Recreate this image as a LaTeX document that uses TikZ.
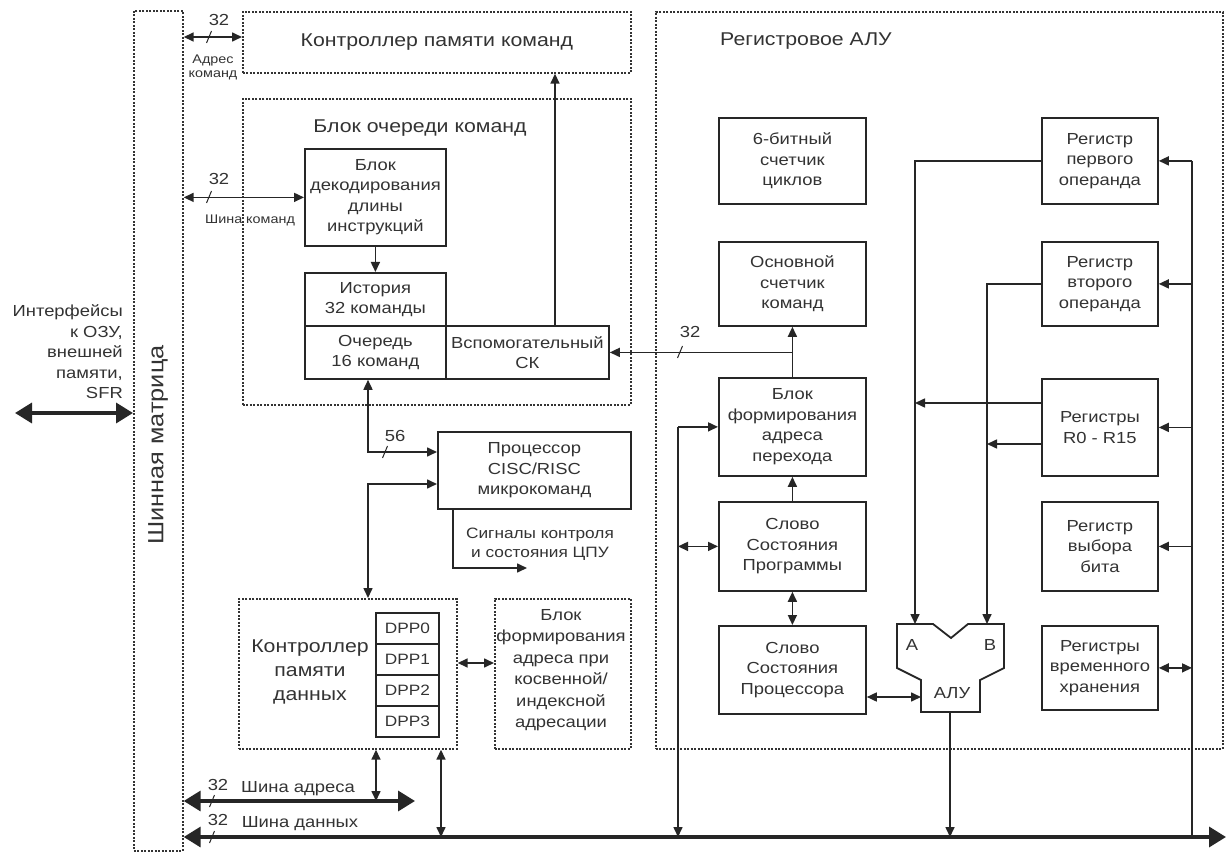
\documentclass[tikz,border=0pt]{standalone}
\usepackage{fontspec}
\setmainfont{Liberation Sans}[FakeStretch=1.15]
\usetikzlibrary{arrows.meta,calc}
\tikzset{
 blk/.style={draw=black!85, line width=1.8pt, inner sep=0pt, align=center, font=\fontsize{16}{20.5}\selectfont, text=black!80, anchor=north west},
 dbox/.style={draw=black!80, line width=1.7pt, dash pattern=on 2pt off 1.5pt, inner sep=0pt, anchor=north west},
 ln/.style={draw=black!85, line width=1.6pt},
 arr/.style={ln, -{Triangle[length=10pt,width=9pt]}},
 darr/.style={ln, {Triangle[length=10pt,width=9pt]}-{Triangle[length=10pt,width=9pt]}},
 bus/.style={draw=black!85, line width=3.5pt, {Triangle[length=17pt,width=20pt]}-{Triangle[length=17pt,width=20pt]}},
 txt/.style={font=\fontsize{16}{20.5}\selectfont, text=black!80, align=center, inner sep=0pt},
 ttl/.style={font=\fontsize{18.5}{24}\selectfont, text=black!80, align=center, inner sep=0pt},
 sml/.style={font=\fontsize{12.5}{14}\selectfont, text=black!80, align=center, inner sep=0pt},
 num/.style={font=\fontsize{16}{18}\selectfont, text=black!80, inner sep=0pt},
 slsh/.style={draw=black!85, line width=1pt},
}
\newcommand\slashat[1]{\draw[slsh] ($(#1)+(-2.5,6)$) -- ($(#1)+(2.5,-6)$);}
\begin{document}
\begin{tikzpicture}[x=1pt,y=-1pt]
\fill[white] (0,0) rectangle (1227,853);
\useasboundingbox (0,0) rectangle (1227,853);

% bus matrix
\node[dbox, minimum width=49pt, minimum height=840pt] (mat) at (133,10) {};
\node[ttl, rotate=90, font=\fontsize{22}{26}\selectfont] (matl) at (158,445) {Шинная матрица};

% interfaces
\node[txt, align=right, anchor=east] (ift) at (123,352) {Интерфейсы\\к ОЗУ,\\внешней\\памяти,\\SFR};
\coordinate (ifL) at (15,413);
\draw[bus] (ifL) -- (mat.west |- ifL);

% instruction memory controller
\node[dbox, ttl, minimum width=388pt, minimum height=61pt] (cmc) at (242,11) {Контроллер памяти команд};
\coordinate (ya) at (0,37);
\draw[darr] (mat.east |- ya) -- (cmc.west |- ya);
\node[num] (n1) at (219,20) {32};
\coordinate (s1) at (209,37); \slashat{s1}
\node[sml] (l1) at (213,67) {Адрес\\команд};

% instruction queue block
\node[dbox, minimum width=388pt, minimum height=306pt] (qblk) at (242,98) {};
\node[ttl] (qttl) at (420,128) {Блок очереди команд};
\node[blk, minimum width=141pt, minimum height=97pt] (dec) at (304,148) {Блок\\декодирования\\длины\\инструкций};
\node[blk, minimum width=141pt, minimum height=53pt] (hist) at (304,272) {История\\32 команды};
\node[blk, minimum width=141pt, minimum height=53pt] (que) at (304,325) {Очередь\\16 команд};
\node[blk, minimum width=163pt, minimum height=53pt] (aux) at (445,325) {Вспомогательный\\СК};
\draw[darr] (mat.east |- dec.west) -- (dec.west);
\node[num] (n2) at (219,179) {32};
\coordinate (s2) at (209,197); \slashat{s2}
\node[sml] (l2) at (250,220) {Шина команд};
\draw[arr] (dec.south) -- (hist.north);
\coordinate (xa) at (555,0);
\draw[arr] (xa |- aux.north) -- (xa |- cmc.south);

% processor
\node[blk, minimum width=193pt, minimum height=77pt] (proc) at (437,431) {Процессор\\CISC/RISC\\микрокоманд};
\coordinate (xq) at (368,0);
\coordinate (yp1) at (0,452);
\coordinate (yp2) at (0,484);
\draw[darr] (xq |- que.south) |- (proc.west |- yp1);
\node[num] (n4) at (395,436) {56};
\coordinate (s4) at (385,452); \slashat{s4}
\coordinate (xs) at (453,0);
\coordinate (sigE) at (527,568);
\draw[arr] (xs |- proc.south) |- (sigE);
\node[txt, font=\fontsize{15}{19}\selectfont] (sig) at (540,544) {Сигналы контроля\\и состояния ЦПУ};

% data memory controller
\node[dbox, minimum width=218pt, minimum height=150pt] (dmc) at (238,598) {};
\node[ttl] (dmct) at (310,672) {Контроллер\\памяти\\данных};
\node[blk, minimum width=63pt, minimum height=31pt, font=\fontsize{15}{18}\selectfont] (dpp0) at (375,612) {DPP0};
\node[blk, minimum width=63pt, minimum height=31pt, font=\fontsize{15}{18}\selectfont] (dpp1) at (375,643) {DPP1};
\node[blk, minimum width=63pt, minimum height=31pt, font=\fontsize{15}{18}\selectfont] (dpp2) at (375,674) {DPP2};
\node[blk, minimum width=63pt, minimum height=31pt, font=\fontsize{15}{18}\selectfont] (dpp3) at (375,705) {DPP3};
\draw[darr] (xq |- dmc.north) |- (proc.west |- yp2);

% indirect address block
\node[dbox, minimum width=136pt, minimum height=150pt] (badr) at (494,598) {};
\node[txt, font=\fontsize{16}{21.5}\selectfont] (badrt) at (561,670) {Блок\\формирования\\адреса при\\косвенной/\\индексной\\адресации};
\coordinate (yb2) at (0,663);
\draw[darr] (dmc.east |- yb2) -- (badr.west |- yb2);

% buses
\coordinate (abR) at (415,801);
\coordinate (dbR) at (1226,837);
\coordinate (xd1) at (376,0);
\coordinate (xd2) at (441,0);
\draw[darr] (xd1 |- dmc.south) -- (xd1 |- abR);
\draw[darr] (xd2 |- dmc.south) -- (xd2 |- dbR);

% register ALU
\node[dbox, minimum width=567pt, minimum height=737pt] (ralu) at (655,11) {};
\node[ttl] (ralut) at (806,41) {Регистровое АЛУ};
\node[blk, minimum width=147pt, minimum height=86pt] (cnt6) at (718,117) {6-битный\\счетчик\\циклов};
\node[blk, minimum width=147pt, minimum height=84pt] (osn) at (718,241) {Основной\\счетчик\\команд};
\node[blk, minimum width=147pt, minimum height=98pt] (bf) at (718,377) {Блок\\формирования\\адреса\\перехода};
\node[blk, minimum width=147pt, minimum height=89pt] (ssp) at (718,501) {Слово\\Состояния\\Программы};
\node[blk, minimum width=147pt, minimum height=88pt] (ssc) at (718,625) {Слово\\Состояния\\Процессора};
\node[blk, minimum width=116pt, minimum height=86pt] (r1) at (1041,117) {Регистр\\первого\\операнда};
\node[blk, minimum width=116pt, minimum height=84pt] (r2) at (1041,241) {Регистр\\второго\\операнда};
\node[blk, minimum width=116pt, minimum height=97pt] (rr) at (1041,378) {Регистры\\R0 - R15};
\node[blk, minimum width=116pt, minimum height=89pt] (rb) at (1041,501) {Регистр\\выбора\\бита};
\node[blk, minimum width=116pt, minimum height=84pt] (rt) at (1041,625) {Регистры\\временного\\хранения};

% ALU shape
\draw[draw=black!85, line width=1.8pt, line join=miter] (897,624) -- (933,624) -- (951,638) -- (968,624) -- (1004,624) -- (1004,668) -- (980,680) -- (980,712) -- (921,712) -- (921,680) -- (897,668) -- cycle;
\node[txt] (alua) at (912,645) {A};
\node[txt] (alub) at (990,645) {B};
\node[txt] (alut) at (952,693) {АЛУ};
\coordinate (inA) at (915,624);
\coordinate (inB) at (987,624);
\coordinate (inL) at (921,697);
\coordinate (outO) at (950,712);

\draw[arr] (bf.north) -- (osn.south);
\draw[arr] (osn.south |- aux.east) -- (aux.east);
\node[num] (n3) at (690,332) {32};
\coordinate (s3) at (680,352); \slashat{s3}

\coordinate (xl) at (678,0);
\draw[arr] (xl |- bf.west) -- (bf.west);
\draw[arr] (xl |- bf.west) -- (xl |- dbR);
\draw[darr] (xl |- ssp.west) -- (ssp.west);
\draw[arr] (ssp.north) -- (bf.south);
\draw[darr] (ssp.south) -- (ssc.north);
\draw[darr] (ssc.east |- inL) -- (inL);
\draw[arr] (outO) -- (outO |- dbR);
\draw[arr] (r1.west) -| (inA);
\draw[arr] (r2.west) -| (inB);
\coordinate (yr1) at (0,403);
\coordinate (yr2) at (0,444);
\draw[arr] (rr.west |- yr1) -- (inA |- yr1);
\draw[arr] (rr.west |- yr2) -- (inB |- yr2);

\coordinate (xr) at (1192,0);
\draw[ln] (xr |- r1.east) -- (xr |- dbR);
\draw[arr] (xr |- r1.east) -- (r1.east);
\draw[arr] (xr |- r2.east) -- (r2.east);
\draw[arr] (xr |- rr.east) -- (rr.east);
\draw[arr] (xr |- rb.east) -- (rb.east);
\draw[darr] (xr |- rt.east) -- (rt.east);

% main buses
\draw[bus] (mat.east |- abR) -- (abR);
\draw[bus] (mat.east |- dbR) -- (dbR);
\node[num] (n5) at (218,785) {32};
\coordinate (s5) at (212,801); \slashat{s5}
\node[txt] (l5) at (298,789) {Шина адреса};
\node[num] (n6) at (218,820) {32};
\coordinate (s6) at (212,837); \slashat{s6}
\node[txt] (l6) at (300,824) {Шина данных};
\end{tikzpicture}
\end{document}
